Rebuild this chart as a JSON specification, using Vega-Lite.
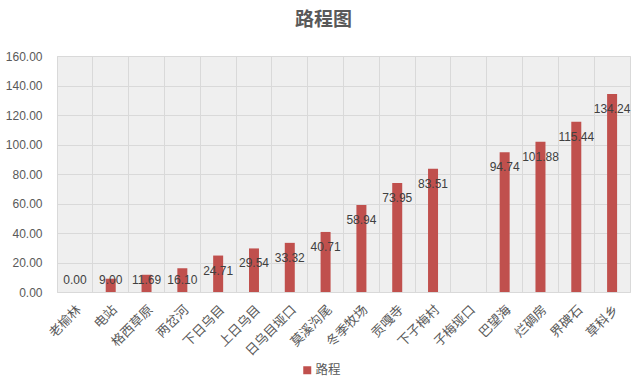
{
  "$schema": "https://vega.github.io/schema/vega-lite/v6.json",
  "autosize": "none",
  "width": 573,
  "height": 236,
  "padding": {"left": 57, "top": 56, "right": 9, "bottom": 97},
  "background": "#ffffff",
  "config": {
    "font": "Liberation Sans, Noto Sans CJK SC",
    "view": {"fill": "#efefef", "stroke": "#d9d9d9", "strokeWidth": 1}
  },
  "title": {
    "text": "路程图",
    "fontSize": 19,
    "fontWeight": "bold",
    "color": "#595959",
    "font": "Noto Sans CJK SC",
    "anchor": "middle",
    "dx": -20,
    "offset": 20
  },
  "data": {
    "values": [
      {"place": "老榆林", "value": 0.00},
      {"place": "电站", "value": 9.00},
      {"place": "格西草原", "value": 11.69},
      {"place": "两岔河", "value": 16.10},
      {"place": "下日乌目", "value": 24.71},
      {"place": "上日乌目", "value": 29.54},
      {"place": "日乌目垭口", "value": 33.32},
      {"place": "莫溪沟尾", "value": 40.71},
      {"place": "冬季牧场", "value": 58.94},
      {"place": "贡嘎寺", "value": 73.95},
      {"place": "下子梅村", "value": 83.51},
      {"place": "子梅垭口", "value": null},
      {"place": "巴望海", "value": 94.74},
      {"place": "烂碉房", "value": 101.88},
      {"place": "界碑石", "value": 115.44},
      {"place": "草科乡", "value": 134.24}
    ]
  },
  "encoding": {
    "x": {
      "field": "place",
      "type": "nominal",
      "sort": null,
      "scale": {
        "domain": ["老榆林", "电站", "格西草原", "两岔河", "下日乌目", "上日乌目", "日乌目垭口", "莫溪沟尾", "冬季牧场", "贡嘎寺", "下子梅村", "子梅垭口", "巴望海", "烂碉房", "界碑石", "草科乡"],
        "paddingInner": 0,
        "paddingOuter": 0
      },
      "axis": {
        "title": null,
        "labelAngle": -45,
        "labelFontSize": 13,
        "labelFont": "Noto Sans CJK SC",
        "labelColor": "#595959",
        "labelPadding": 11,
        "domain": false,
        "ticks": false,
        "grid": true,
        "gridColor": "#d9d9d9",
        "bandPosition": 0
      }
    }
  },
  "layer": [
    {
      "mark": {"type": "bar", "width": 10, "color": "#c0504d"},
      "encoding": {
        "y": {
          "field": "value",
          "type": "quantitative",
          "scale": {"domain": [0, 160], "nice": false},
          "axis": {
            "title": null,
            "values": [0, 20, 40, 60, 80, 100, 120, 140, 160],
            "format": ".2f",
            "labelFontSize": 12,
            "labelColor": "#595959",
            "labelPadding": 15,
            "domain": false,
            "ticks": false,
            "grid": true,
            "gridColor": "#d9d9d9"
          }
        },
        "color": {
          "datum": "路程",
          "scale": {"range": ["#c0504d"]},
          "legend": {
            "title": null,
            "orient": "none",
            "legendX": 244,
            "legendY": 308,
            "symbolType": "square",
            "symbolSize": 64,
            "symbolStrokeWidth": 0,
            "labelFontSize": 12.5,
            "labelFont": "Noto Sans CJK SC",
            "labelColor": "#595959",
            "labelOffset": 2,
            "padding": 0
          }
        }
      }
    },
    {
      "mark": {"type": "text", "fontSize": 12, "color": "#404040", "baseline": "middle", "dy": -12},
      "encoding": {
        "y": {
          "field": "value",
          "type": "quantitative",
          "scale": {"domain": [18.31, 178.31], "nice": false, "zero": false, "clamp": true},
          "axis": null
        },
        "text": {"field": "value", "type": "quantitative", "format": ".2f"}
      }
    }
  ],
  "resolve": {"scale": {"y": "independent"}}
}
